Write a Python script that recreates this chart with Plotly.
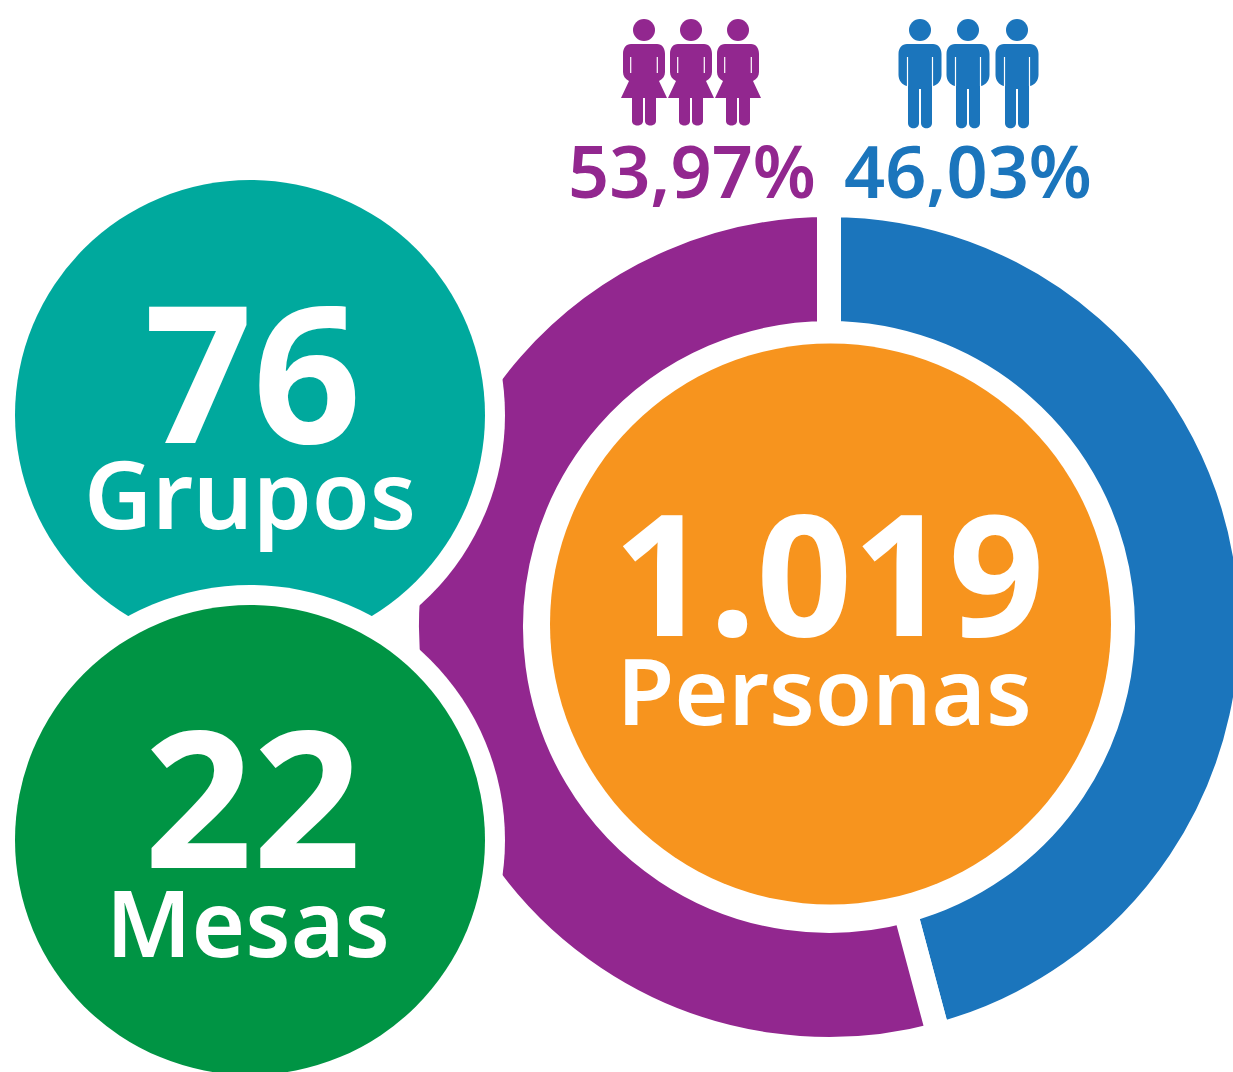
import plotly.graph_objects as go

W, H = 1300, 1072
FONT = "Noto Sans"

genders = ["Hombres", "Mujeres"]
# arc sizes as measured on the picture (the split sits at about 165 degrees)
shares = [45.83, 54.17]
total_people = "1.019"
total_label = "Personas"
groups_value = "76"
groups_label = "Grupos"
tables_value = "22"
tables_label = "Mesas"
share_text = ["46,03%", "53,97%"]

BLUE, PURPLE, TEAL, GREEN, ORANGE = "#1B75BC", "#92278F", "#00A99D", "#009444", "#F7941E"

CX, CY, R_FULL = 829, 627, 422

fig = go.Figure()
fig.add_trace(go.Scatter(x=[], y=[], showlegend=False, hoverinfo="skip"))
fig.add_trace(go.Pie(
    labels=genders, values=shares, sort=False, direction="clockwise", rotation=0,
    hole=294 / 422, textinfo="none", showlegend=False,
    marker=dict(colors=[BLUE, PURPLE], line=dict(color="white", width=24)),
    domain=dict(x=[(CX - R_FULL) / W, (CX + R_FULL) / W],
                y=[1 - (CY + R_FULL) / H, 1 - (CY - R_FULL) / H]),
))

shapes = []


def circle(cx, cy, r, color):
    shapes.append(dict(type="circle", xref="x", yref="y", x0=cx - r, x1=cx + r, y0=cy - r, y1=cy + r,
                       fillcolor=color, line=dict(width=0), layer="above"))


def path(d, color):
    shapes.append(dict(type="path", xref="x", yref="y", path=d, fillcolor=color, line=dict(width=0), layer="above"))


def slit(x0, y0, x1, y1, w=1.2):
    shapes.append(dict(type="line", xref="x", yref="y", x0=x0, y0=y0, x1=x1, y1=y1,
                       line=dict(color="white", width=w), layer="above"))


def woman(c, color):
    circle(c, 30, 11, color)
    d = (f"M{c-13},44 L{c+13},44 C{c+18},44 {c+21},48 {c+21},54 L{c+21},72 C{c+21},76 {c+19},79 {c+15},81 "
         f"L{c+23},98 L{c+12},98 L{c+12},121 C{c+12},127 {c+1},127 {c+1},121 L{c+1},98 L{c-1},98 L{c-1},121 "
         f"C{c-1},127 {c-12},127 {c-12},121 L{c-12},98 L{c-23},98 L{c-15},81 C{c-19},79 {c-21},76 {c-21},72 "
         f"L{c-21},54 C{c-21},48 {c-18},44 {c-13},44 Z")
    path(d, color)
    slit(c - 13.3, 57, c - 13.3, 73)
    slit(c + 13.3, 57, c + 13.3, 73)


def man(c, color):
    circle(c, 30, 11, color)
    d = (f"M{c-13},44 L{c+13},44 C{c+18},44 {c+21.5},48 {c+21.5},54 L{c+21.5},75 C{c+21.5},80 {c+18},85 {c+13},86 "
         f"L{c+12},86 L{c+12},123 C{c+12},130 {c+1},130 {c+1},123 L{c+1},89 L{c-1},89 L{c-1},123 "
         f"C{c-1},130 {c-12},130 {c-12},123 L{c-12},86 L{c-13},86 C{c-18},85 {c-21.5},80 {c-21.5},75 "
         f"L{c-21.5},54 C{c-21.5},48 {c-18},44 {c-13},44 Z")
    path(d, color)
    slit(c - 12.5, 57, c - 12.5, 86)
    slit(c + 12.5, 57, c + 12.5, 86)


# white halos and discs
circle(830.5, 624, 296, "white")
circle(830.5, 624, 280.5, ORANGE)
circle(250, 415, 255, "white")
circle(250, 415, 235, TEAL)
circle(250, 840, 255, "white")
circle(250, 840, 235, GREEN)

for c in (644, 691, 738):
    woman(c, PURPLE)
for c in (920, 968, 1017):
    man(c, BLUE)


def label(x, y, t, size, color="white", weight=600):
    return dict(x=x, y=y, xref="x", yref="y", text=t, showarrow=False, xanchor="center", yanchor="middle",
                font=dict(family=FONT, size=size, color=color, weight=weight))


annotations = [
    label(252, 369, groups_value, 190, weight=700),
    label(250, 492.5, groups_label, 94),
    label(252, 794, tables_value, 190, weight=700),
    label(248, 921, tables_label, 92),
    label(829, 570, total_people, 168, weight=700),
    label(824, 688.5, total_label, 93),
    label(692, 170, share_text[1], 72, PURPLE),
    label(968, 170, share_text[0], 72, BLUE),
]

fig.update_layout(
    width=W, height=H, margin=dict(l=0, r=0, t=0, b=0, pad=0, autoexpand=False),
    paper_bgcolor="white", plot_bgcolor="white",
    xaxis=dict(range=[0, W], visible=False, fixedrange=True),
    yaxis=dict(range=[H, 0], visible=False, fixedrange=True),
    shapes=shapes, annotations=annotations, showlegend=False,
)

fig.write_html("out.html", config=dict(displayModeBar=False),
               post_script="document.body.style.margin='0';document.body.style.overflow='hidden';"
                           "document.documentElement.style.overflow='hidden';")
